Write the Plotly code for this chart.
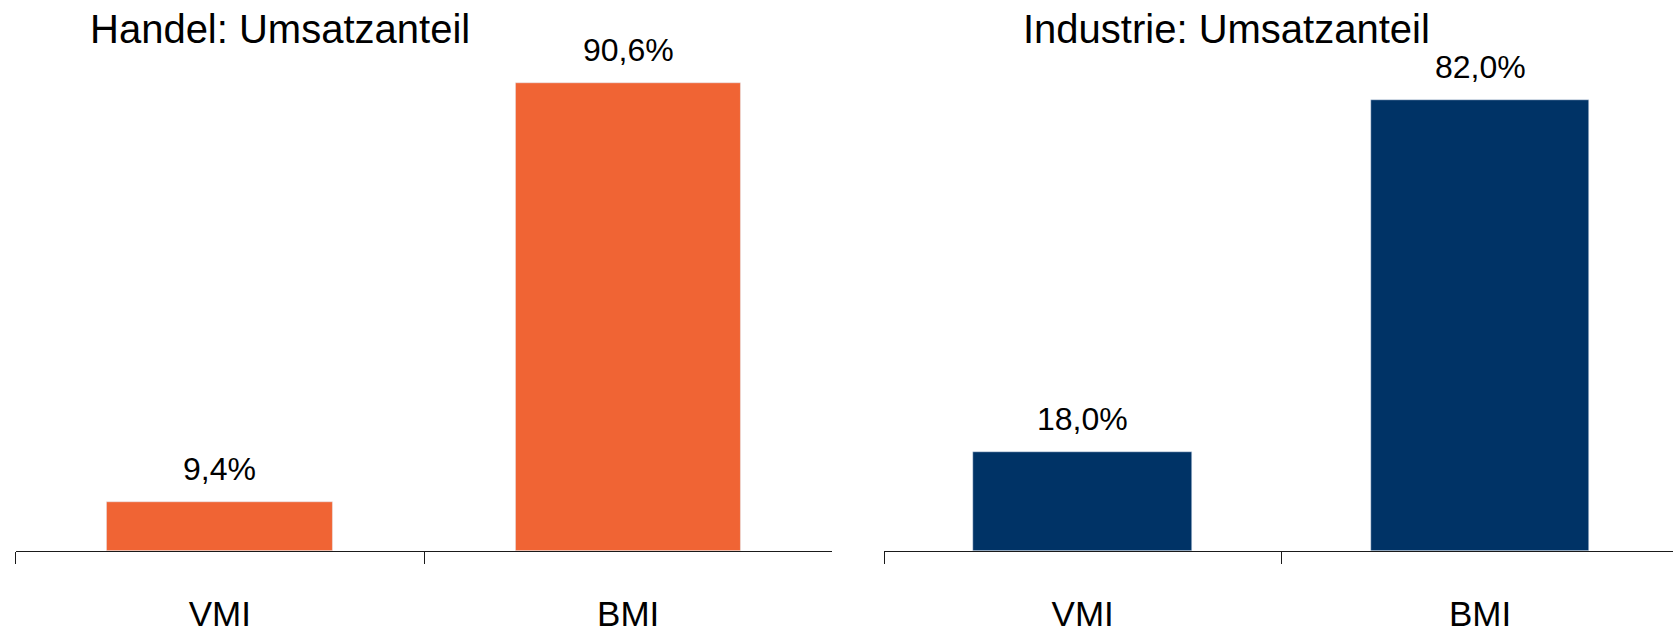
import plotly.graph_objects as go

# ---- data ----
categories = ["VMI", "BMI"]
handel_values = [9.4, 90.6]
industrie_values = [18.0, 82.0]
panel_titles = ["Handel: Umsatzanteil", "Industrie: Umsatzanteil"]
handel_color = "#F06434"
industrie_color = "#003366"

W, H = 1673, 631
FONT = "Liberation Sans, Arial, sans-serif"


def fmt(v):
    return f"{v:.1f}".replace(".", ",") + "%"


fig = go.Figure()

fig.add_trace(go.Bar(x=categories, y=handel_values, marker_color=handel_color,
                     width=0.552, xaxis="x", yaxis="y", showlegend=False,
                     hoverinfo="skip"))
fig.add_trace(go.Bar(x=categories, y=industrie_values, marker_color=industrie_color,
                     width=0.55, xaxis="x2", yaxis="y2", showlegend=False,
                     hoverinfo="skip"))

axis_y_px = 550.7
ydom = [1 - axis_y_px / H, 1]

common_x = dict(type="category", showline=True, linecolor="#1a1a1a", linewidth=1.4,
                ticks="outside", tickson="boundaries", ticklen=12, tickwidth=1.4,
                tickcolor="#1a1a1a", showgrid=False, zeroline=False,
                tickfont=dict(family=FONT, size=35, color="black"),
                ticklabelstandoff=32, automargin=False, fixedrange=True)

fig.update_layout(
    width=W, height=H,
    margin=dict(l=0, r=0, t=0, b=0, autoexpand=False),
    paper_bgcolor="white", plot_bgcolor="white",
    font=dict(family=FONT, color="black"),
    xaxis=dict(domain=[15.7 / W, 832.3 / W], range=[-0.5, 1.5], **common_x),
    xaxis2=dict(domain=[884 / W, 1.0], range=[-0.5, -0.5 + (W - 884) / 397.4],
                anchor="y2", **common_x),
    yaxis=dict(domain=ydom, range=[0, axis_y_px / 5.165], visible=False,
               showgrid=False, zeroline=False, automargin=False, fixedrange=True),
    yaxis2=dict(domain=ydom, range=[0, axis_y_px / 5.493], visible=False,
                showgrid=False, zeroline=False, anchor="x2", automargin=False,
                fixedrange=True),
    bargap=0,
)

annotations = []
for xref, yref, vals in [("x", "y", handel_values), ("x2", "y2", industrie_values)]:
    for c, v in zip(categories, vals):
        annotations.append(dict(x=c, y=v, xref=xref, yref=yref, text=fmt(v),
                                showarrow=False, yanchor="middle", yshift=33,
                                font=dict(family=FONT, size=32, color="black")))

for xc, t in zip([279.5, 1226], panel_titles):
    annotations.append(dict(x=xc / W, y=1 - 28.5 / H, xref="paper", yref="paper",
                            text=t, showarrow=False, xanchor="center", yanchor="middle",
                            font=dict(family=FONT, size=40, color="black")))

fig.update_layout(annotations=annotations)

fig.write_html("out.html", config={"displayModeBar": False},
               post_script="document.body.style.margin='0px';document.body.style.overflow='hidden';")
